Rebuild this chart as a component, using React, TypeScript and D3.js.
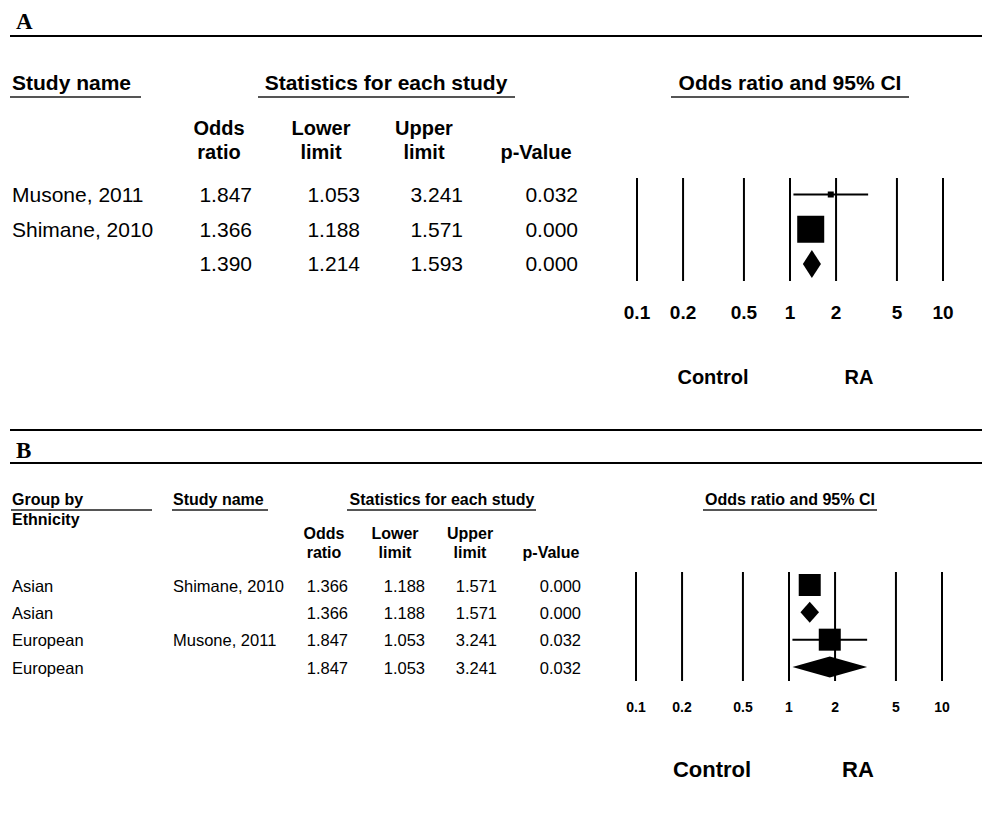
import React from "react";
import * as d3 from "d3";

// ---------- Data ----------
const tickValues = [0.1, 0.2, 0.5, 1, 2, 5, 10];

// Panel A
const studiesA = ["Musone, 2011", "Shimane, 2010", ""];
const typesA = ["study", "study", "summary"];
const orA = [1.847, 1.366, 1.39];
const lowerA = [1.053, 1.188, 1.214];
const upperA = [3.241, 1.571, 1.593];
const pA = [0.032, 0.0, 0.0];
const weightsA = [4.7, 95.3, 100];

// Panel B
const groupsB = ["Asian", "Asian", "European", "European"];
const studiesB = ["Shimane, 2010", "", "Musone, 2011", ""];
const typesB = ["study", "summary", "study", "summary"];
const orB = [1.366, 1.366, 1.847, 1.847];
const lowerB = [1.188, 1.188, 1.053, 1.053];
const upperB = [1.571, 1.571, 3.241, 3.241];
const pB = [0.0, 0.0, 0.032, 0.032];
const weightsB = [100, 100, 100, 100];

const colHeads = [
  ["Odds", "ratio"],
  ["Lower", "limit"],
  ["Upper", "limit"],
  ["", "p-Value"],
];

const FONT = "'Liberation Sans', Arial, Helvetica, sans-serif";
const SERIF = "'Liberation Serif', 'Times New Roman', serif";
const fmt = d3.format(".3f");

function Forest({ cfg, or, lower, upper, types, weights }) {
  const x = d3.scaleLog().domain([0.1, 10]).range(cfg.xRange);
  const y = d3.scaleLinear().domain([0, or.length - 1]).range(cfg.markY);
  const maxW = d3.max(weights.filter((w, i) => types[i] === "study"));
  return (
    <g>
      {tickValues.map((t) => (
        <g key={t}>
          <line x1={x(t)} x2={x(t)} y1={cfg.vTop} y2={cfg.vBot} stroke="#000" strokeWidth={2} />
          <text x={x(t)} y={cfg.tickY} dy="0.35em" textAnchor="middle" fontFamily={FONT} fontWeight="bold" fontSize={cfg.tickFs}>
            {String(t)}
          </text>
        </g>
      ))}
      {or.map((v, i) => {
        const cy = y(i);
        if (types[i] === "summary") {
          const h = cfg.diamondH;
          const pts = [
            [x(lower[i]), cy],
            [x(v), cy - h / 2],
            [x(upper[i]), cy],
            [x(v), cy + h / 2],
          ];
          return <polygon key={i} points={pts.map((p) => p.join(",")).join(" ")} fill="#000" />;
        }
        const s = cfg.maxSq * Math.sqrt(weights[i] / maxW);
        return (
          <g key={i}>
            <line x1={x(lower[i])} x2={x(upper[i])} y1={cy} y2={cy} stroke="#000" strokeWidth={2} />
            <rect x={x(v) - s / 2} y={cy - s / 2} width={s} height={s} fill="#000" />
          </g>
        );
      })}
      <text x={cfg.controlX} y={cfg.labY} dy="0.35em" textAnchor="middle" fontFamily={FONT} fontWeight="bold" fontSize={cfg.labFs}>Control</text>
      <text x={cfg.raX} y={cfg.labY} dy="0.35em" textAnchor="middle" fontFamily={FONT} fontWeight="bold" fontSize={cfg.labFs}>RA</text>
    </g>
  );
}

function Header({ x, y, text, anchor = "start", fs, ul }) {
  return (
    <g>
      <text x={x} y={y} dy="0.35em" textAnchor={anchor} fontFamily={FONT} fontWeight="bold" fontSize={fs}>{text}</text>
      {ul && <line x1={ul[0]} x2={ul[1]} y1={ul[2]} y2={ul[2]} stroke="#555" strokeWidth={2} />}
    </g>
  );
}

export default function App() {
  const cfgA = {
    xRange: [637, 943],
    markY: [194.5, 264],
    vTop: 178,
    vBot: 281,
    tickY: 312,
    tickFs: 19,
    diamondH: 28,
    maxSq: 27,
    controlX: 713,
    raX: 859,
    labY: 377,
    labFs: 20,
  };
  const cfgB = {
    xRange: [636, 942],
    markY: [585, 667],
    vTop: 572,
    vBot: 681,
    tickY: 707,
    tickFs: 14,
    diamondH: 21,
    maxSq: 22,
    controlX: 712,
    raX: 858,
    labY: 769,
    labFs: 22,
  };

  const rowYA = d3.scaleLinear().domain([0, studiesA.length - 1]).range([195, 264]);
  const rowYB = d3.scaleLinear().domain([0, studiesB.length - 1]).range([586, 668]);

  const colA = { head: [219, 321, 424, 536], right: [252, 360, 463, 578] };
  const colB = { head: [324, 395, 470, 551], right: [348, 425, 497, 581] };

  const fsA = 21;
  const fsAH = 20;
  const fsB = 16.5;
  const fsBH = 16;

  return (
    <svg width={982} height={815} style={{ position: "absolute", left: 0, top: 0, background: "#fff" }}>
      <rect width={982} height={815} fill="#fff" />
      {/* Panel A */}
      <text x={16} y={29} fontFamily={SERIF} fontWeight="bold" fontSize={23}>A</text>
      <line x1={10} x2={982} y1={36} y2={36} stroke="#000" strokeWidth={2} />
      <Header x={12} y={83} text="Study name" fs={21} ul={[10, 141, 97]} />
      <Header x={386} y={83} text="Statistics for each study" anchor="middle" fs={21} ul={[258, 515, 97]} />
      <Header x={790} y={83} text="Odds ratio and 95% CI" anchor="middle" fs={21} ul={[671, 909, 97]} />
      {colHeads.map((h, j) => (
        <g key={j}>
          <text x={colA.head[j]} y={128} dy="0.35em" textAnchor="middle" fontFamily={FONT} fontWeight="bold" fontSize={fsAH}>{h[0]}</text>
          <text x={colA.head[j]} y={152} dy="0.35em" textAnchor="middle" fontFamily={FONT} fontWeight="bold" fontSize={fsAH}>{h[1]}</text>
        </g>
      ))}
      {studiesA.map((s, i) => {
        const vals = [orA[i], lowerA[i], upperA[i], pA[i]];
        return (
          <g key={i}>
            <text x={12} y={rowYA(i)} dy="0.35em" fontFamily={FONT} fontSize={fsA}>{s}</text>
            {vals.map((v, j) => (
              <text key={j} x={colA.right[j]} y={rowYA(i)} dy="0.35em" textAnchor="end" fontFamily={FONT} fontSize={fsA}>{fmt(v)}</text>
            ))}
          </g>
        );
      })}
      <Forest cfg={cfgA} or={orA} lower={lowerA} upper={upperA} types={typesA} weights={weightsA} />

      {/* Panel B */}
      <line x1={10} x2={982} y1={430} y2={430} stroke="#000" strokeWidth={2} />
      <text x={16} y={458} fontFamily={SERIF} fontWeight="bold" fontSize={23}>B</text>
      <line x1={10} x2={982} y1={463} y2={463} stroke="#000" strokeWidth={2} />
      <Header x={12} y={499} text="Group by" fs={fsBH} ul={[11, 152, 510]} />
      <Header x={12} y={519} text="Ethnicity" fs={fsBH} />
      <Header x={173} y={499} text="Study name" fs={fsBH} ul={[172, 268, 510]} />
      <Header x={442} y={499} text="Statistics for each study" anchor="middle" fs={fsBH} ul={[347, 536, 510]} />
      <Header x={790} y={499} text="Odds ratio and 95% CI" anchor="middle" fs={fsBH} ul={[703, 877, 510]} />
      {colHeads.map((h, j) => (
        <g key={j}>
          <text x={colB.head[j]} y={533} dy="0.35em" textAnchor="middle" fontFamily={FONT} fontWeight="bold" fontSize={fsBH}>{h[0]}</text>
          <text x={colB.head[j]} y={552} dy="0.35em" textAnchor="middle" fontFamily={FONT} fontWeight="bold" fontSize={fsBH}>{h[1]}</text>
        </g>
      ))}
      {studiesB.map((s, i) => {
        const vals = [orB[i], lowerB[i], upperB[i], pB[i]];
        return (
          <g key={i}>
            <text x={12} y={rowYB(i)} dy="0.35em" fontFamily={FONT} fontSize={fsB}>{groupsB[i]}</text>
            <text x={173} y={rowYB(i)} dy="0.35em" fontFamily={FONT} fontSize={fsB}>{s}</text>
            {vals.map((v, j) => (
              <text key={j} x={colB.right[j]} y={rowYB(i)} dy="0.35em" textAnchor="end" fontFamily={FONT} fontSize={fsB}>{fmt(v)}</text>
            ))}
          </g>
        );
      })}
      <Forest cfg={cfgB} or={orB} lower={lowerB} upper={upperB} types={typesB} weights={weightsB} />
    </svg>
  );
}
